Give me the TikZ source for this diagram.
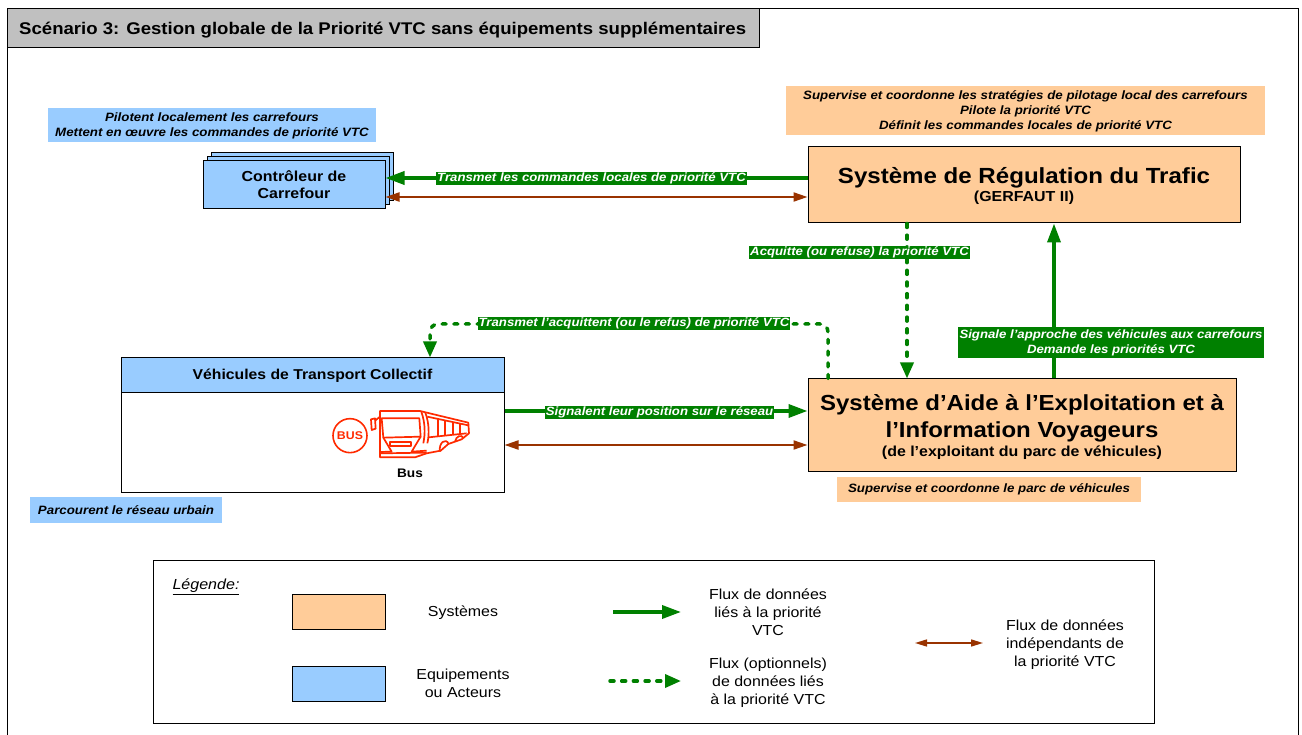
\documentclass[tikz,border=0pt]{standalone}
\usepackage{fontspec}
\setmainfont{Liberation Sans}[FakeStretch=1.1]
\usetikzlibrary{arrows.meta}
\definecolor{sysorange}{HTML}{FFCC99}
\definecolor{actblue}{HTML}{99CCFF}
\definecolor{flowgreen}{HTML}{008000}
\definecolor{flowbrown}{HTML}{993300}
\definecolor{titlegray}{HTML}{C0C0C0}
\definecolor{busred}{HTML}{FF2A00}
\newcommand{\fsize}[1]{\fontsize{#1}{18}\selectfont}
\tikzset{
  sysbox/.style={draw=black,line width=1pt,fill=sysorange,align=center,inner sep=0pt},
  actbox/.style={draw=black,line width=1pt,fill=actblue,align=center,inner sep=0pt},
  orangenote/.style={fill=sysorange,align=center,inner sep=0pt,font=\fontsize{12.1}{15}\selectfont\bfseries\itshape},
  bluenote/.style={fill=actblue,align=center,inner sep=0pt,font=\fontsize{12.1}{15}\selectfont\bfseries\itshape},
  flowlabel/.style={fill=flowgreen,text=white,align=center,inner sep=1pt,font=\fontsize{12}{15}\selectfont\bfseries\itshape},
  legendtext/.style={align=center,inner sep=0pt,font=\fontsize{14.5}{18}\selectfont},
  greenflow/.style={draw=flowgreen,line width=3.5pt,-{Triangle[length=19pt,width=13pt]}},
  greendots/.style={draw=flowgreen,line width=3.5pt,line cap=round,dash pattern=on 4pt off 7.7pt,-{Triangle[length=16pt,width=13pt]}},
  brownflow/.style={draw=flowbrown,line width=2pt,{Triangle[length=14pt,width=9pt]}-{Triangle[length=14pt,width=9pt]}},
}
\begin{document}
\begin{tikzpicture}[x=1pt,y=-1pt]
  \useasboundingbox (0,0) rectangle (1302,735);
  % frame and title
  \path[fill=white] (0,0) rectangle (1302,735);
  \draw[line width=1pt] (7,736) -- (7,9) -- (1298,9) -- (1298,736);
  \node[draw=black,line width=1pt,fill=titlegray,minimum width=752pt,minimum height=39pt,inner sep=0pt] (title) at (383,28.5) {};
  \node[anchor=west,inner sep=0pt,font=\fsize{16.9}\bfseries] (titletext) at (19,30) {Scénario 3: Gestion globale de la Priorité VTC sans équipements supplémentaires};
  % boxes
  \node[orangenote,minimum width=479pt,minimum height=49pt] (srtnote) at (1025.5,111) {Supervise et coordonne les stratégies de pilotage local des carrefours\\Pilote la priorité VTC\\Définit les commandes locales de priorité VTC};
  \node[bluenote,minimum width=328pt,minimum height=34pt] (ctrlnote) at (212,125.5) {Pilotent localement les carrefours\\Mettent en œuvre les commandes de priorité VTC};
  \node[sysbox,minimum width=432pt,minimum height=76pt] (srt) at (1024,185) {\rule{0pt}{18pt}\fontsize{21.9}{23}\selectfont\bfseries Système de Régulation du Trafic\\[2pt]\fontsize{14.5}{18}\selectfont\bfseries (GERFAUT II)};
  \node[sysbox,minimum width=428pt,minimum height=92pt] (sae) at (1022,425) {\rule{0pt}{20pt}\fontsize{21.8}{27}\selectfont\bfseries Système d’Aide à l’Exploitation et à\\[5pt]\fontsize{21.8}{27}\selectfont\bfseries l’Information Voyageurs\\[3pt]\fontsize{14.5}{18}\selectfont\bfseries (de l’exploitant du parc de véhicules)};
  \node[orangenote,minimum width=304pt,minimum height=25pt] (saenote) at (989,489.5) {Supervise et coordonne le parc de véhicules};
  \node[bluenote,minimum width=192pt,minimum height=26pt] (vehnote) at (126,510) {Parcourent le réseau urbain};
  \node[actbox,minimum width=182pt,minimum height=48pt] (ctrlc) at (302,177) {};
  \node[actbox,minimum width=182pt,minimum height=48pt] (ctrlb) at (298,181) {};
  \node[actbox,minimum width=182pt,minimum height=48pt,font=\fontsize{14.5}{17}\selectfont\bfseries] (ctrl) at (294,185) {Contrôleur de\\Carrefour};
  \node[draw=black,line width=1pt,fill=white,minimum width=383pt,minimum height=134pt] (veh) at (312.5,425) {};
  \node[actbox,minimum width=383pt,minimum height=35pt,font=\fsize{14.3}\bfseries] (vehhead) at (312.5,375.5) {Véhicules de Transport Collectif};
  % bus icon
  \begin{scope}[shift={(320,400)},scale=0.3333,draw=busred,line width=1.7pt,line join=round]
    \node[draw=busred,circle,line width=1.6pt,minimum size=34pt,inner sep=0pt,text=busred,font=\fsize{11.2}\bfseries] (busdisc) at (90,107) {BUS};
    \draw (180,33) -- (300,33) -- (445,68) -- (447,100) -- (425,118) -- (385,132) -- (362,152) -- (320,160) -- (285,172) -- (180,172) -- cycle;
    \draw (185,55) -- (298,55) -- (302,110) -- (190,113) -- cycle;
    \draw (190,113) -- (215,155) -- (180,156);
    \draw (302,110) -- (275,155) -- (320,152);
    \draw (210,125) rectangle (272,138);
    \draw (182,160) -- (320,158);
    \draw (153,58) -- (165,55) -- (167,86) -- (155,90) -- cycle;
    \draw (165,62) -- (180,50);
    \draw (304,35) .. controls (316,70) and (316,100) .. (310,130);
    \draw (316,38) .. controls (328,70) and (328,105) .. (322,130);
    \draw (322,50) -- (445,76);
    \draw (326,112) -- (440,100);
    \draw (355,58) -- (355,108);
    \draw (375,62) -- (375,106);
    \draw (398,67) -- (398,104);
    \draw (420,72) -- (420,102);
    \draw (360,155) .. controls (355,128) and (378,112) .. (386,132);
    \draw (405,125) .. controls (408,108) and (425,102) .. (430,114);
    \node[inner sep=0pt,text=black,font=\fsize{12.4}\bfseries] (buslabel) at (270,219) {Bus};
  \end{scope}
  % flows
  \draw[greenflow] ([yshift=7pt]srt.west) -- ([yshift=7pt]ctrl.east);
  \draw[brownflow] ([yshift=-12pt]ctrl.east) -- ([yshift=-12pt]srt.west);
  \draw[greendots] ([xshift=-117pt]srt.south) -- ([xshift=-115pt]sae.north);
  \draw[greenflow] ([xshift=32pt]sae.north) -- ([xshift=30pt]srt.south);
  \draw[greendots,rounded corners=8pt] ([xshift=-194pt]sae.north) -- (828,324) -- (430,324) -- ([xshift=117.5pt]vehhead.north);
  \draw[greenflow] ([yshift=14pt]veh.east) -- ([yshift=14pt]sae.west);
  \draw[brownflow] ([yshift=-20pt]veh.east) -- ([yshift=-20pt]sae.west);
  \node[flowlabel] (lblcmd) at (591.5,178.5) {Transmet les commandes locales de priorité VTC};
  \node[flowlabel] (lblack) at (859.5,252.5) {Acquitte (ou refuse) la priorité VTC};
  \node[flowlabel,minimum width=306pt,minimum height=31pt] (lblapp) at (1111,343) {Signale l’approche des véhicules aux carrefours\\Demande les priorités VTC};
  \node[flowlabel] (lblref) at (634,323.5) {Transmet l’acquittent (ou le refus) de priorité VTC};
  \node[flowlabel] (lblpos) at (659.5,412.5) {Signalent leur position sur le réseau};
  % legend
  \node[draw=black,line width=1pt,minimum width=1001pt,minimum height=163pt] (legend) at (653.5,641.5) {};
  \node[legendtext,font=\fsize{14.6}\itshape] (legendtitle) at (206,587) {\underline{Légende:}};
  \node[sysbox,minimum width=93pt,minimum height=35pt] (keysys) at (338.5,611.5) {};
  \node[actbox,minimum width=93pt,minimum height=35pt] (keyact) at (338.5,683.5) {};
  \node[legendtext] (keysystxt) at (463,613) {Systèmes};
  \node[legendtext] (keyacttxt) at (463,683) {Equipements\\ou Acteurs};
  \node[legendtext] (keyflowtxt) at (768,612) {Flux de données\\liés à la priorité\\VTC};
  \node[legendtext] (keyopttxt) at (768,683) {Flux (optionnels)\\de données liés\\à la priorité VTC};
  \node[legendtext] (keyindtxt) at (1065,645) {Flux de données\\indépendants de\\la priorité VTC};
  \coordinate (flowa) at (613,612);
  \coordinate (flowb) at (681,612);
  \coordinate (dotsa) at (610,681);
  \coordinate (dotsb) at (681,681);
  \coordinate (inda) at (915,643);
  \coordinate (indb) at (983,643);
  \draw[greenflow] (flowa) -- (flowb);
  \draw[greendots] (dotsa) -- (dotsb);
  \draw[brownflow,line width=1.5pt,{Triangle[length=12pt,width=7pt]}-{Triangle[length=12pt,width=7pt]}] (inda) -- (indb);
\end{tikzpicture}
\end{document}
